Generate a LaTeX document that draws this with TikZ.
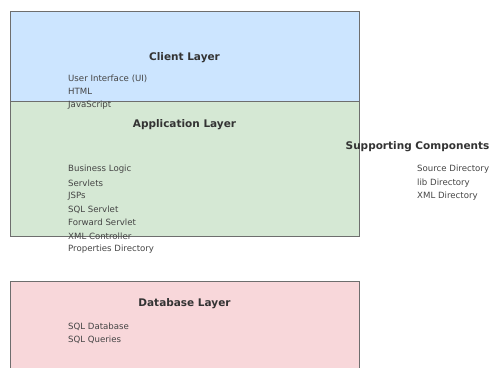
\documentclass[tikz,border=0pt]{standalone}
\usepackage{fontspec}
\setmainfont{DejaVu Sans}
\usetikzlibrary{positioning}
\definecolor{client-blue}{HTML}{CCE5FF}
\definecolor{app-green}{HTML}{D5E8D4}
\definecolor{db-red}{HTML}{F8D7DA}
\definecolor{frame-gray}{HTML}{6E6E6E}
\definecolor{title-gray}{HTML}{333333}
\definecolor{item-gray}{HTML}{444444}

\begin{document}
\begin{tikzpicture}[x=1pt, y=-1pt,
	layer/.style={draw=frame-gray, line width=0.8pt, anchor=north west, minimum width=349pt, inner sep=0pt},
	title/.style={text=title-gray, font=\fontsize{10.5}{12}\selectfont\bfseries, inner sep=0pt},
	item/.style={text=item-gray, font=\fontsize{8.6}{10}\selectfont, anchor=west, inner sep=0pt}]
	\useasboundingbox (0,0) rectangle (489,367);
	% layer boxes
	\node[layer, fill=client-blue, minimum height=90pt] (client) at (10,11) {};
	\node[layer, fill=app-green, minimum height=135pt] (app) at (10,101) {};
	\node[layer, fill=db-red, minimum height=100pt] (db) at (10,281) {};
	% titles
	\node[title] (client title) at (184.5,57.5) {Client Layer};
	\node[title] (app title) at (184.5,124.5) {Application Layer};
	\node[title] (db title) at (184.5,303.5) {Database Layer};
	\node[title, anchor=west] (support title) at (345.5,146.5) {Supporting Components};
	% items
	\foreach \txt [count=\i] in {User Interface (UI), HTML, JavaScript}
		\node[item] (client item \i) at (68,{78.5+13.3*(\i-1)}) {\txt};
	\foreach \txt [count=\i] in {Business Logic, Servlets, JSPs, SQL Servlet, Forward Servlet, XML Controller, Properties Directory}
		\node[item] (app item \i) at (68,{169.5+13.3*(\i-1)}) {\txt};
	\foreach \txt [count=\i] in {SQL Database, SQL Queries}
		\node[item] (db item \i) at (68,{326.5+13.3*(\i-1)}) {\txt};
	\foreach \txt [count=\i] in {Source Directory, lib Directory, XML Directory}
		\node[item] (support item \i) at (417,{169.5+13.3*(\i-1)}) {\txt};
\end{tikzpicture}
\end{document}
